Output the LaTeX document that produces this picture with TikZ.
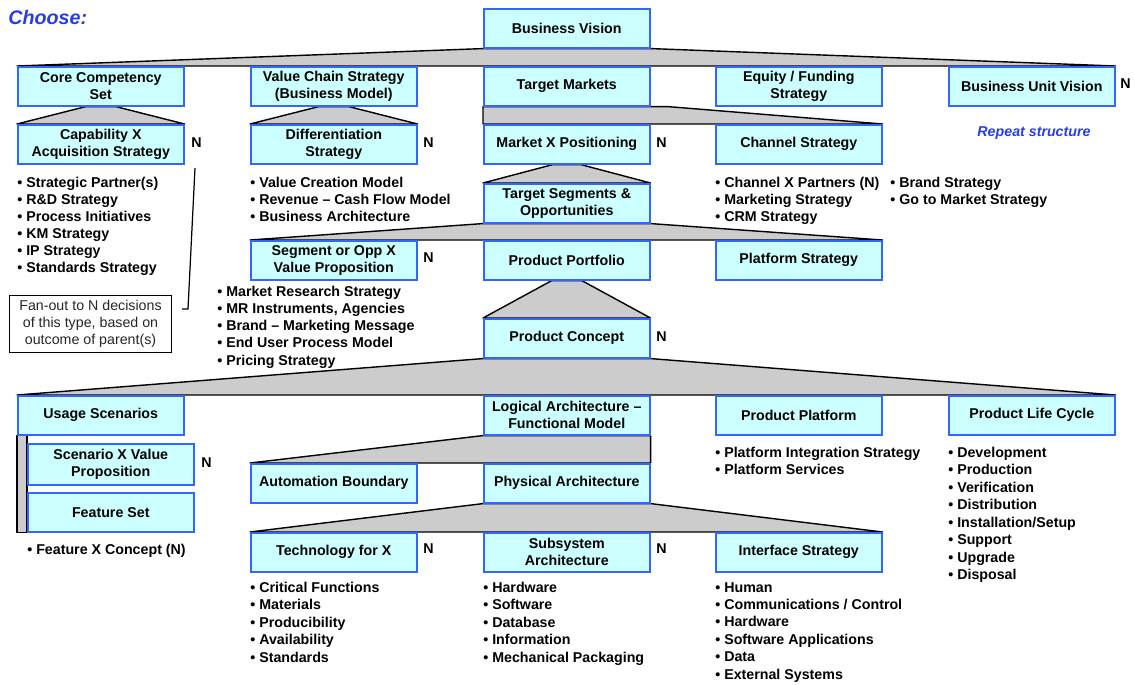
\documentclass[tikz,border=0pt]{standalone}
\usepackage{fontspec}
\setmainfont{Liberation Sans}
\usetikzlibrary{calc,backgrounds}

\definecolor{boxfill}{RGB}{204,255,255}
\definecolor{boxline}{RGB}{51,102,255}
\definecolor{fangray}{RGB}{204,204,204}
\definecolor{noteblue}{RGB}{40,60,230}

\tikzset{
  dbox/.style={draw=boxline, fill=boxfill, line width=0.9pt, anchor=north west,
    minimum width=3.32cm, minimum height=0.78cm, inner sep=1pt, align=center,
    font=\bfseries\fontsize{8.1}{9.7}\selectfont},
  fan/.style={fill=fangray, draw=black, line width=0.8pt, line join=round},
  nmark/.style={anchor=west, inner sep=0pt, font=\bfseries\fontsize{8.1}{9.7}\selectfont},
  bitem/.style={anchor=base west, inner sep=0pt, font=\bfseries\fontsize{8.1}{9.7}\selectfont},
  bluenote/.style={inner sep=0pt, text=noteblue, font=\bfseries\itshape\fontsize{8.1}{9.7}\selectfont}
}

\begin{document}
\begin{tikzpicture}[x=0.02cm,y=-0.02cm]
    \useasboundingbox (0,0) rectangle (1135,684);

    % decision boxes
    \node[dbox] (vision) at (483,8) {Business Vision};
    \node[dbox] (core) at (17,66) {Core Competency\\Set};
    \node[dbox] (vchain) at (250,66) {Value Chain Strategy\\(Business Model)};
    \node[dbox] (tmark) at (483,66) {Target Markets};
    \node[dbox] (equity) at (715,66) {Equity / Funding\\Strategy};
    \node[dbox] (buv) at (948,66) {Business Unit Vision};
    \node[dbox] (capab) at (17,124) {Capability X\\Acquisition Strategy};
    \node[dbox] (diff) at (250,124) {Differentiation\\Strategy};
    \node[dbox] (mxpos) at (483,124) {Market X Positioning};
    \node[dbox] (chan) at (715,124) {Channel Strategy};
    \node[dbox] (tseg) at (483,183) {Target Segments \&\\Opportunities};
    \node[dbox] (segvp) at (250,240) {Segment or Opp X\\Value Proposition};
    \node[dbox] (pport) at (483,240) {Product Portfolio};
    \node[dbox] (pstrat) at (715,240) {Platform Strategy};
    \node[dbox] (pconc) at (483,318) {Product Concept};
    \node[dbox] (usage) at (17,395) {Usage Scenarios};
    \node[dbox] (logic) at (483,395) {Logical Architecture –\\Functional Model};
    \node[dbox] (pplat) at (715,395) {Product Platform};
    \node[dbox] (plife) at (948,395) {Product Life Cycle};
    \node[dbox, minimum height=0.82cm] (scenvp) at (27,443) {Scenario X Value\\Proposition};
    \node[dbox] (fset) at (27,492) {Feature Set};
    \node[dbox] (autob) at (250,463) {Automation Boundary};
    \node[dbox] (phys) at (483,463) {Physical Architecture};
    \node[dbox] (techx) at (250,532) {Technology for X};
    \node[dbox] (subsys) at (483,532) {Subsystem\\Architecture};
    \node[dbox] (intf) at (715,532) {Interface Strategy};

    % fans
    \begin{scope}[on background layer]
        \draw[fan] (vision.south west) -- (core.north west) -- (buv.north east) -- (vision.south east) -- cycle;
        \draw[fan] ($(core.south)+(-15,0)$) -- (capab.north west) -- (capab.north east) -- ($(core.south)+(15,0)$) -- cycle;
        \draw[fan] ($(vchain.south)+(-15,0)$) -- (diff.north west) -- (diff.north east) -- ($(vchain.south)+(15,0)$) -- cycle;
        \draw[fan] (tmark.south west) -- ($(tmark.south east)+(17,0)$) -- (chan.north east) -- (mxpos.north west) -- cycle;
        \draw[fan] ($(mxpos.south)+(-14,0)$) -- (tseg.north west) -- (tseg.north east) -- ($(mxpos.south)+(14,0)$) -- cycle;
        \draw[fan] (tseg.south west) -- (segvp.north west) -- (pstrat.north east) -- (tseg.south east) -- cycle;
        \draw[fan] ($(pport.south)+(-15,0)$) -- (pconc.north west) -- (pconc.north east) -- ($(pport.south)+(15,0)$) -- cycle;
        \draw[fan] (pconc.south west) -- (usage.north west) -- (plife.north east) -- (pconc.south east) -- cycle;
        \draw[fan] (usage.south west) rectangle (fset.south west);
        \draw[fan] (logic.south west) -- (autob.north west) -- (phys.north east) -- (logic.south east) -- cycle;
        \draw[fan] (phys.south west) -- (techx.north west) -- (intf.north east) -- (phys.south east) -- cycle;
    \end{scope}

    % N marks
    \node[nmark] (ncapab) at (191,143) {N};
    \node[nmark] (ndiff) at (423,143) {N};
    \node[nmark] (nmxpos) at (656,143) {N};
    \node[nmark] (nbuv) at (1120,84) {N};
    \node[nmark] (nsegvp) at (423,258) {N};
    \node[nmark] (npconc) at (656,337) {N};
    \node[nmark] (nscenvp) at (201,463) {N};
    \node[nmark] (ntechx) at (423,549) {N};
    \node[nmark] (nsubsys) at (656,549) {N};

    % notes
    \node[bluenote, anchor=west, font=\bfseries\itshape\fontsize{11.2}{13}\selectfont] (choose) at (8,17) {Choose:};
    \node[bluenote] (repeat) at (1034,133) {Repeat structure};
    \node[draw, line width=0.6pt, anchor=north west, minimum width=3.24cm, minimum height=1.14cm,
        inner sep=1pt, align=center, text=black!85, font=\fontsize{8.1}{9.7}\selectfont] (fanout) at (9,295)
        {Fan-out to N decisions\\of this type, based on\\outcome of parent(s)};
    \coordinate (brklow) at (182,309);
    \coordinate (brktop) at (195,168);
    \draw[line width=0.7pt] (brklow) -- ++(6,0) -- (brktop);

    % bullet lists
    \foreach \t [count=\i from 0] in {Strategic Partner(s), R\&D Strategy, Process Initiatives, KM Strategy, IP Strategy, Standards Strategy}
        \node[bitem] (capl\i) at (17,{187+17*\i}) {\textbullet\ \t};
    \foreach \t [count=\i from 0] in {Value Creation Model, Revenue – Cash Flow Model, Business Architecture}
        \node[bitem] (diffl\i) at (250,{187+17*\i}) {\textbullet\ \t};
    \foreach \t [count=\i from 0] in {Channel X Partners (N), Marketing Strategy, CRM Strategy}
        \node[bitem] (chanl\i) at (715,{187+17*\i}) {\textbullet\ \t};
    \foreach \t [count=\i from 0] in {Brand Strategy, Go to Market Strategy}
        \node[bitem] (brandl\i) at (890,{187+17*\i}) {\textbullet\ \t};
    \foreach \t [count=\i from 0] in {Market Research Strategy, {MR Instruments, Agencies}, Brand – Marketing Message, End User Process Model, Pricing Strategy}
        \node[bitem] (segl\i) at (217,{296+17.3*\i}) {\textbullet\ \t};
    \node[bitem] (featl0) at (27,554) {\textbullet\ Feature X Concept (N)};
    \foreach \t [count=\i from 0] in {Platform Integration Strategy, Platform Services}
        \node[bitem] (platl\i) at (715,{457+17.4*\i}) {\textbullet\ \t};
    \foreach \t [count=\i from 0] in {Development, Production, Verification, Distribution, Installation/Setup, Support, Upgrade, Disposal}
        \node[bitem] (lifel\i) at (948,{457+17.5*\i}) {\textbullet\ \t};
    \foreach \t [count=\i from 0] in {Critical Functions, Materials, Producibility, Availability, Standards}
        \node[bitem] (techl\i) at (250,{592+17.5*\i}) {\textbullet\ \t};
    \foreach \t [count=\i from 0] in {Hardware, Software, Database, Information, Mechanical Packaging}
        \node[bitem] (subl\i) at (483,{592+17.5*\i}) {\textbullet\ \t};
    \foreach \t [count=\i from 0] in {Human, Communications / Control, Hardware, Software Applications, Data, External Systems}
        \node[bitem] (intl\i) at (715,{592+17.4*\i}) {\textbullet\ \t};
\end{tikzpicture}
\end{document}
